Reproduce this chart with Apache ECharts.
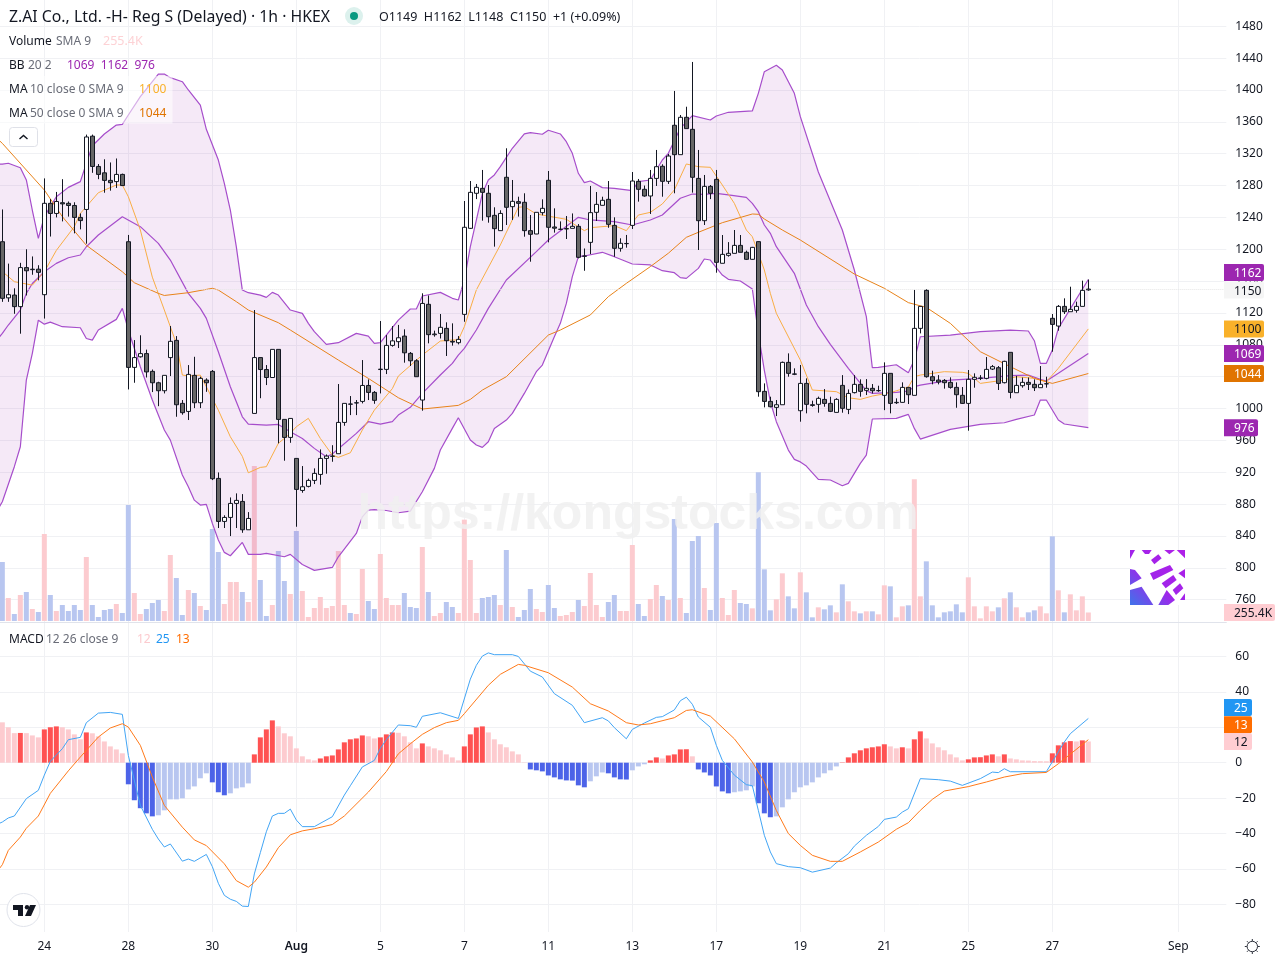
<!DOCTYPE html>
<html><head><meta charset="utf-8">
<style>html,body{margin:0;padding:0;background:#fff}#c{width:1280px;height:960px}</style>
<script src="https://cdn.jsdelivr.net/npm/echarts@6/dist/echarts.min.js"></script>
</head><body><div id="c"></div>
<script>
// [open, close, low, high] per hourly bar
const candles=[
[1209.5,1138.4,1134,1250],[1139,1143,1134,1182],[1142.5,1128,1119,1151],[1128,1177,1094,1183],[1177,1173,1142,1200],[1174.4,1175,1168,1191],[1175,1171,1161,1180],[1143,1257.7,1113,1289],[1257.7,1245,1216,1263],[1245,1260,1240,1272],
[1258.5,1257,1235,1288],[1257.7,1255,1241,1260],[1255,1240,1220,1259],[1240,1236,1225,1245],[1250,1341,1207,1344],[1342,1304,1296,1344],[1304,1294,1288,1307],[1296,1286.5,1271,1313],[1286.5,1283.6,1273.6,1309],[1285,1294,1277,1314],
[1294,1280,1280,1295],[1209.5,1051.7,1024,1218],[1051.7,1064,1032.4,1086],[1065,1069,1064,1092],[1069,1046,1039,1074],[1046.7,1032.4,1020.7,1049],[1032.4,1022.4,1003,1033.7],[1022.4,1041.7,1019,1041.7],[1064,1084.4,1040.8,1103.6],[1085.6,1004.8,989.7,1091],
[1006.5,994.8,992.3,1010.7],[996.4,1042.9,985.6,1054.6],[1041.7,1007.3,1000.6,1065],[1007.3,1037.9,1000.6,1040],[1035.8,1032.4,1021,1038],[1046.7,911.9,910.2,1048.4],[912.3,858.3,850,919.8],[858.3,863.3,850,866],[863.3,880.9,839.9,888.4],[880.9,884.7,850,893.5],
[883.4,847.8,844,892.6],[847.8,862,847.8,870],[993.9,1064,993.9,1123.7],[1064,1049,1013,1064],[1049,1039,1029.5,1054.6],[1039,1074.3,1039,1074.3],[1074.3,986.4,956.3,1074.3],[986.4,963.8,934.5,986.4],[963.8,987.6,957,987.6],[937.4,898.5,851.6,937.4],
[897.2,901.8,894.3,927.8],[902.3,909.8,901,912],[909.8,918.6,905.2,924.9],[917.3,937.4,904.4,948.7],[937.4,940.3,918.2,942.4],[940,940.3,933.2,954],[943.3,982.6,943.3,1030.8],[982.6,1006.5,978.4,1006.5],[1005.7,1005.5,991.8,1015.7],[1007,1007.3,991.8,1010.7],
[1009,1029,1006.5,1060.9],[1029,1020.3,1010.7,1036.6],[1020.3,1010.3,1006,1022],[1049,1049.5,1019,1109.9],[1049.2,1079.3,1043.3,1092.3],[1079.3,1085,1077.7,1103.6],[1084,1088.9,1076,1105],[1091,1070,1057.6,1099.5],[1069.3,1060,1053.4,1071],[1060,1040,1040,1062],
[1010.7,1132,997.3,1144.7],[1130.9,1092.8,1081.9,1142],[1092.7,1093.6,1090.3,1097.8],[1094.4,1102,1088,1118.7],[1100.7,1085.2,1066,1108.3],[1084.4,1083.5,1079,1107],[1082.7,1086.9,1080.6,1091],[1118.3,1227.6,1109,1260.6],[1226.3,1271.5,1225.5,1285.7],[1270.3,1277.8,1263,1282],
[1276.5,1271.5,1235.9,1299.6],[1270.3,1240.9,1233.4,1280.7],[1242.6,1225.9,1203.3,1252.7],[1223.4,1245,1223.4,1249],[1290.4,1252.7,1230.5,1326.8],[1253.5,1260.2,1236.8,1287],[1259.8,1257.7,1241,1266],[1259,1223.4,1215.8,1270.3],[1223.4,1218.8,1184.4,1243],[1219.2,1246.4,1219,1246.4],
[1246,1251.4,1242.6,1262.7],[1286.6,1227.6,1208.7,1298.3],[1228,1226.5,1220.9,1251.4],[1225,1225.2,1224,1235],[1225.5,1226,1212.9,1241.8],[1226.3,1228.8,1226.3,1245],[1228.8,1189.9,1188.6,1231.7],[1191.2,1191.6,1173,1201],[1208.7,1246,1194,1279.5],[1246.4,1256.4,1235.5,1271.9],
[1255.2,1261.5,1255,1266],[1262.7,1231.3,1227,1285.7],[1230,1201.2,1190.7,1240.1],[1201.2,1207.5,1197,1213.8],[1207,1207.3,1202,1218],[1230,1285.7,1225.5,1297],[1285.3,1275.3,1259.8,1288.3],[1275.3,1266.9,1266,1280],[1266.9,1289,1244.3,1299.6],[1289,1303.7,1279.5,1324.7],
[1304.2,1285.3,1266,1306.7],[1285.3,1317.1,1282,1319.7],[1355.7,1318.8,1270.3,1398.8],[1318.8,1365.7,1318.8,1368.6],[1365.7,1351.5,1351.5,1379],[1350.6,1290.4,1271.1,1435.2],[1289,1235.9,1199.1,1324.7],[1235.9,1279,1230.5,1293.3],[1279,1270.3,1263,1280.7],[1287.8,1183.6,1170.6,1299.6],
[1182.4,1193.6,1182.4,1217.9],[1192.4,1194.9,1190.7,1209],[1194.9,1204.9,1194.9,1224.2],[1204.9,1196.2,1196.2,1217.9],[1196.2,1187.4,1186.5,1198.3],[1187.4,1202.4,1187,1203],[1209.6,1021.2,1014.9,1210],[1021.6,1009,1001.5,1031.6],[1009,1002.3,1001.5,1014.9],[1001.5,1004.8,990.6,1010.7],
[1004.8,1058,1004.8,1059],[1058,1044.2,1040,1069.3],[1043.5,1043.1,1042,1050.5],[997.3,1031.6,983.5,1054.7],[1031.6,1005.3,994,1037.9],[1004.8,1004,1002.3,1009.9],[1005.3,1012.8,994.8,1015],[1011.5,1006.5,1002.3,1024.5],[1006.5,996.5,995.6,1014.9],[995.2,1011.5,995.2,1013],
[1029.1,1000.3,994.8,1042],[999,1019,993,1024],[1020,1030.4,1019,1042],[1030.4,1021.6,1014.9,1036.7],[1022.9,1025.4,1017,1037],[1025.4,1022.4,1019,1030.8],[1022.4,1022.6,1021,1028.7],[1016.6,1044.2,998,1058],[1044.2,1006.5,994,1044.2],[1007.3,1007.8,1005.7,1012.8],
[1007.8,1026.6,1007.4,1032.9],[1026.6,1017.4,1005.7,1026.6],[1016.6,1100.7,1016.6,1148.9],[1100.7,1128.3,1094.4,1128.3],[1148.4,1040,1038.8,1149.7],[1040,1035,1030.4,1047.5],[1035.8,1033.3,1030.4,1042],[1035.4,1032.5,1025,1037],[1032.9,1026.6,1025,1039.2],[1026.6,1017.4,1001,1032.9],
[1016.6,1006.5,1005.7,1027],[1006.5,1036.7,972.2,1048.4],[1036.7,1039.2,1026.2,1044.2],[1038,1038.4,1035.8,1042],[1037.9,1049.2,1036.7,1064.7],[1049.6,1052.6,1048.4,1054.7],[1051.3,1031.6,1023.3,1053.4],[1032.5,1059.3,1031.6,1060],[1070.6,1020.3,1012.8,1070.6],[1019.9,1029.1,1019.9,1041],
[1028.7,1032.9,1026.2,1039],[1032.9,1030.4,1023.3,1039],[1030.4,1026.2,1022,1036.7],[1026.2,1030.4,1026.2,1053.4],[1031,1031.2,1026.2,1040],[1113.3,1105.7,1071.4,1118.7],[1103.6,1128.3,1097.8,1130],[1128.3,1121.6,1118.7,1138.4],[1121.6,1124.6,1121.6,1153],[1123.3,1128.3,1120.4,1134.2],
[1128.3,1148.4,1128.3,1160.6],[1149,1150,1148,1162]];
// volume in thousands of shares
const volumes=[1770,690,210,780,870,360,270,2610,780,300,480,300,480,330,1920,480,120,330,360,510,240,3480,840,210,360,540,630,300,1980,1290,180,930,840,450,330,2760,2070,510,1170,1170,870,570,4650,1230,150,480,2100,1200,810,2700,900,120,390,720,390,450,2100,480,240,210,1560,600,360,2010,690,480,480,
840,420,390,2220,870,150,240,570,420,240,3040,1830,240,690,720,780,480,2130,420,120,330,960,360,270,1080,390,150,180,270,630,450,1440,480,120,570,780,300,300,2280,510,150,660,1080,750,630,3060,690,240,2400,2550,990,330,2940,690,180,930,540,510,
380,4460,1550,320,650,1430,740,380,1460,860,110,410,350,470,260,1100,590,290,230,290,290,200,1070,1040,110,440,470,4250,740,1790,470,110,260,290,500,260,1310,440,80,440,290,410,680,860,410,110,260,320,440,230,2540,920,260,800,320,740,255.4];
// [bar, price]; bar -1 lies just left of the visible window
const bbUpper=[[-1,1307],[0,1307],[1,1308],[3,1302.4],[4,1287],[5,1249],[6,1213.7],[7,1241],[8,1253.5],[9,1266],[11,1277.7],[13,1284.9],[14,1307.9],[15,1330],[17,1344.7],[19,1356],[20,1356.9],[21,1368.6],[23,1391.6],[26,1420],[27,1420],[28,1415.5],[30,1410.4],[31,1400],[33,1381],[34,1350.6],[36,1312],[37,1282.8],[38,1249.3],[39,1203],[40,1148.8],[41,1145.5],[43,1142.5],[44,1139.6],[45,1145.9],[46,1142.5],[48,1123.7],[50,1119.5],[51,1107],[52,1096.5],[54,1080.6],[56,1082.7],[59,1094.4],[61,1091],[62,1081.8],[63,1082.7],[64,1092.3],[66,1111],[68,1125],[69,1125],[70,1141.3],[73,1145.9],[75,1138.4],[76,1136.3],[77,1161.4],[78,1203.3],[80,1270],[81,1287],[82,1293.3],[83,1303.7],[85,1326.8],[87,1344.8],[88,1346.4],[90,1344.4],[91,1349.4],[93,1344.8],[94,1335.1],[95,1320.5],[96,1295.4],[97,1283.7],[98,1285.7],[100,1277.4],[102,1276.5],[105,1273.6],[106,1284.9],[108,1287],[110,1312.1],[111,1320.5],[113,1351.9],[115,1367.8],[118,1362.3],[119,1367.4],[121,1372],[125,1373.7],[126,1395.8],[127,1423],[129,1431],[130,1425.1],[132,1395.8],[133,1366.5],[136,1297],[140,1224.2],[142,1174],[144,1115.4],[145,1051.3],[146,1051.7],[149,1055],[151,1045],[152,1061],[153,1090.2],[158,1092.3],[163,1096.5],[168,1098.6],[171,1097.4],[172,1085.2],[173,1056.8],[174,1056.8],[175,1073.5],[176,1100.7],[181,1162]];
const bbBasis=[[-1,1085],[0,1094.4],[1,1104.9],[3,1123.7],[4,1144.6],[5,1157],[7,1171.8],[9,1182.3],[11,1189.4],[13,1192.8],[14,1203.2],[16,1217.9],[20,1240.9],[23,1228.4],[26,1207.4],[28,1186.5],[31,1144.6],[33,1125.8],[34,1113.2],[36,1071.4],[38,1027.4],[40,989.7],[41,980.5],[44,979.3],[46,980.1],[48,970.9],[50,962.5],[52,950],[54,939.5],[55,942.9],[59,968.8],[61,983.5],[63,980.5],[65,983.5],[66,991.8],[68,1001.5],[70,1019.1],[73,1042.1],[75,1056.7],[76,1067.2],[77,1075.6],[79,1098.6],[81,1125.8],[84,1161.4],[89,1197],[91,1211.7],[96,1240.1],[98,1236.8],[102,1234.7],[105,1230.5],[108,1236.8],[110,1243],[113,1264],[115,1269.4],[117,1269],[119,1270.3],[121,1268.2],[124,1265.2],[125,1257.7],[126,1247.2],[127,1230.5],[128,1220],[129,1203.3],[132,1169.8],[134,1130],[136,1102.8],[138,1080.6],[141,1050.5],[144,1022.4],[145,1019.1],[149,1020.4],[151,1022],[152,1027.5],[153,1029.5],[158,1035.8],[163,1037.9],[168,1041.3],[171,1042.1],[173,1036.7],[174,1034.6],[176,1044.2],[181,1069]];
const bbLower=[[-1,870],[0,883],[2,927],[3,952],[4,1035.8],[5,1069.3],[6,1111],[7,1106],[8,1108.6],[10,1102.8],[13,1101.5],[14,1088],[15,1086],[16,1098.6],[19,1112],[20,1125.8],[21,1098.6],[23,1052.5],[25,1010.7],[27,973],[28,960.4],[30,916.5],[31,901.8],[32,885],[33,878.8],[34,879.7],[35,855.8],[36,834.9],[37,819.4],[38,815.2],[40,831.9],[41,816.9],[43,816.9],[44,818.1],[47,813.9],[48,816.9],[50,804.3],[52,796.8],[55,800.5],[56,813.9],[59,843.2],[60,864],[61,872.5],[62,873],[64,872],[66,869.2],[68,871.3],[70,895.6],[72,924.9],[73,947.9],[75,975.1],[76,988.5],[78,960.5],[79,954.2],[80,951.3],[81,958.4],[82,975.1],[84,985.6],[85,993.9],[87,1019],[89,1046.3],[90,1054.6],[92,1090.2],[93,1107],[94,1132],[95,1165.6],[96,1190.7],[97,1191.6],[100,1196.2],[102,1190.7],[105,1181.5],[108,1180.3],[110,1173.1],[112,1170.6],[113,1164.4],[114,1163.5],[116,1176],[117,1187.8],[118,1186.5],[120,1167.7],[121,1162.3],[123,1160.2],[125,1150.1],[126,1094.4],[127,1048],[128,1008.6],[129,983.5],[131,947.9],[132,936.2],[133,933],[134,927.8],[136,911.1],[138,910.3],[140,903.1],[141,906],[143,931.2],[144,941.6],[145,986.9],[149,987.7],[151,992.7],[152,975.1],[153,961.7],[158,973.9],[163,980.2],[167,982.2],[169,986.4],[172,991.9],[173,1010.7],[174,1010.7],[176,985.6],[177,980.6],[181,976]];
const ma10=[[-1,1175],[0,1172],[2,1159.3],[5,1155],[7,1171.8],[9,1198.6],[12,1228.4],[13,1245],[16,1271],[19,1280.7],[20,1280.7],[21,1266],[23,1224.2],[25,1165],[27,1123.7],[28.5,1081.8],[30,1042.1],[31,1041],[33,1042],[34,1027.4],[36,998],[38,964.6],[40,940],[41,919.4],[43,926.1],[44,927],[46,956.3],[48,968.8],[49,977.2],[51,987.7],[53,962.5],[55,941.6],[56,938.7],[58,944.5],[60,973],[62,998],[65,1025],[66,1040.8],[70,1067.2],[73,1084.8],[75,1086.1],[76,1086.1],[77,1102.8],[79,1148.9],[83,1205.4],[86,1252.7],[87,1253.5],[89,1244.3],[94,1237.6],[97,1223.4],[98,1227.1],[102,1229.7],[104,1223.4],[106,1243],[108,1246.4],[110,1256.9],[112,1274.4],[114,1307.1],[116,1303.7],[118,1302.9],[120,1280.7],[122,1257.7],[124,1224.2],[125,1215.8],[127,1174],[128,1144.7],[129,1119.6],[133,1060.9],[135,1023.3],[139,1021.2],[141,1013.6],[143,1011.5],[145,1015.7],[148,1019.9],[151,1027],[152,1040],[153,1042.1],[157,1046.3],[160,1045.5],[161,1044.2],[163,1031.6],[167,1035.8],[169,1040],[172,1037.9],[174,1033.7],[176,1050.5],[181,1100]];
const ma50=[[-1,1340],[0,1333],[7,1274.4],[10,1241],[14,1205],[20,1171.8],[22,1158],[26,1144.6],[27,1142],[31,1145.5],[35,1151],[36,1148.8],[39,1134.2],[41,1123.7],[46,1107.8],[48,1098.6],[56,1060.9],[61,1037.9],[66,1013.6],[70,999.4],[76,1004],[78,1011.5],[80,1023.2],[84,1040],[91,1092.3],[93,1098.6],[98,1117.5],[101,1140.5],[104,1157.2],[108,1178.2],[111,1195],[114,1215],[116,1221.3],[120,1233.4],[125,1244.3],[126,1243.9],[127,1238],[130,1224.2],[133,1211.6],[142,1168.9],[147,1151],[151,1133],[154,1127],[158,1107],[163,1071.4],[168,1052.6],[172,1037.9],[175,1031.6],[181,1044]];
const macdHist=[22.8,20,16.7,16.8,16.7,15.4,14.3,18.8,20,20.5,20,18.8,16,13.2,17.1,16.6,14.9,12,9.2,7.5,5.3,-12.2,-21.2,-25.7,-28.6,-30.3,-29.7,-26.9,-20.7,-20.7,-20.1,-15.1,-13.4,-8.8,-6,-11.1,-16.7,-18.4,-17.3,-14.5,-13.9,-11.7,4.7,14.3,18.8,23.9,20.5,16.6,14.9,8.1,3.6,1.9,1.3,2.4,3.6,4.1,7.5,11.5,13.2,13.7,15.4,14.9,13.7,14.3,16,17.1,16.9,
14.9,11.5,8.1,10.9,9.2,8.1,7,4.7,3,1.3,9.2,16,19.9,20.5,17.1,13.2,10.4,8.7,6.4,4.7,0.2,-3.8,-4.3,-4.9,-7.2,-8.3,-9.4,-10,-10.1,-12.8,-13.9,-10.5,-7.7,-5.5,-6,-8.3,-9.4,-9.5,-4.3,-2.1,-0.9,1.3,3,2.4,4.1,4.7,7.5,7.6,3.6,-3.8,-5.5,-7.2,-13.4,-16.2,-17.3,-16.7,-16.2,-15.6,-13.4,-22.9,-28.6,-30.8,-30.3,-25.2,-20.7,-16.7,-13.9,-12.8,-11.1,-8.3,-6,-4.3,-2.1,0.2,3,5.3,7,8.1,8.7,9.2,10.4,9.2,8.1,8.7,8.1,13.2,17.7,13.7,10.9,8.7,7,4.7,3,1.3,1.9,3,3.1,4.1,4.7,3.6,4.7,2.4,1.9,1.3,1.2,0.9,0.85,0.8,5.3,9.8,11.5,12.2,12,12.6,12];
const macdLine=[[-1,-35],[0,-33.5],[1,-31.2],[2,-30.1],[4,-20.3],[6,-15.6],[7,-7],[8,0.8],[10,7.9],[11,13],[13,14.3],[14,22.6],[16,28],[18,28.4],[20,27.3],[21,4.1],[23,-24.1],[25,-37.6],[26,-43.1],[27,-47.6],[28,-45.9],[30,-55.6],[31,-54.4],[32,-55.7],[34,-51.8],[35,-58.7],[36,-68.1],[37,-74.9],[38,-77.1],[39,-78.3],[40,-81],[41,-81.2],[42,-62.8],[43,-50.8],[44,-39],[45,-30.1],[46,-28.6],[47,-28.6],[48,-26.2],[49,-32.4],[50,-36.1],[52,-36.1],[55,-30.5],[57,-18.3],[58,-13],[60,-2.4],[62,1.3],[63,8.1],[64,13],[66,21.3],[68,20.9],[69,20],[70,26.2],[73,28.2],[76,25],[78,47.2],[79,55],[80,60.2],[81,62],[82,61],[85,61],[86,60],[88,51.7],[90,48.4],[92,39],[95,32.4],[97,22.6],[100,25.4],[101,23.6],[102,19.8],[104,13.5],[105,18.8],[107,22.4],[109,25.6],[110,26],[112,29.8],[113,35],[114,37],[115,33],[116,25.8],[118,20],[119,9.8],[120,1.3],[122,-7],[124,-12.4],[125,-13],[126,-26.9],[127,-41],[128,-50.4],[129,-57],[131,-58.7],[133,-59.3],[135,-61.8],[138,-59.5],[139,-56.5],[141,-51.4],[142,-47.1],[144,-41],[146,-36],[147,-32],[149,-30.7],[150,-27.9],[151,-26],[153,-9],[156,-9.6],[158,-10.4],[160,-12.8],[163,-9],[165,-5.3],[166,-5.6],[167,-3.4],[168,-5.1],[174,-5.1],[177,11.7],[178,16.4],[181,25]];
const macdSignal=[[-1,-62],[0,-57.6],[1,-49.5],[3,-42],[4,-37],[6,-30.1],[8,-17.3],[11,-4.6],[13,3.2],[16,14.5],[18,19.6],[20,22],[21,20.1],[23,9.8],[25,-8.1],[27,-24.1],[30,-36.4],[32,-43.6],[34,-46.8],[37,-57.1],[39,-66.6],[41,-70.3],[42,-67.5],[44,-58.9],[46,-48],[48,-40.7],[50,-38.5],[52,-37.3],[55,-34.9],[57,-30.1],[61,-16.6],[64,-5],[66,5],[68,10.7],[70,16],[72,19.8],[74,22.6],[76,23.9],[77,27.7],[81,43.7],[83,49.9],[86,55.5],[87,55],[91,50.8],[95,42.7],[98,33.3],[101,29.2],[104,22.6],[106,21.3],[108,22],[112,25.4],[114,29.5],[115,29.9],[118,26.3],[122,13.5],[125,0.4],[127,-10.9],[129,-27],[131,-40],[133,-46.7],[135,-52.3],[138,-55.7],[140,-55.7],[143,-50.4],[146,-44.8],[149,-37.6],[151,-33.9],[153,-26.9],[155,-20.7],[157,-16],[161,-13.5],[164,-10.9],[167,-8.1],[170,-6.2],[174,-5.5],[176,-0.6],[181,13]];
const tickBars=[7,21,35,49,63,77,91,105,119,133,147,161,175,196];
const tickLabels=['24','28','30','Aug','5','7','11','13','17','19','21','25','27','Sep'];
const priceTicks=[1480,1440,1400,1360,1320,1280,1240,1200,1160,1120,1080,1040,1000,960,920,880,840,800,760];
const macdTicks=[60,40,20,0,-20,-40,-60,-80];
const priceTagValues=[1162,1150,1100,1069,1044,976];
const macdTagValues=[25,13,12];
const lastVolume=255.4;

const FONT='"Noto Sans",sans-serif', INK='#131722', GREY='#6a6d78', GRID='#f0f1f4';
const BAR_COUNT=206;
const categories=Array.from({length:BAR_COUNT},(_,i)=>{const k=tickBars.indexOf(i-1);return k<0?'':tickLabels[k];});
const hasLabel=(i,v)=>v!=='';
const shift=a=>a.map(p=>[p[0]+1,p[1]]);
const lead=a=>['-'].concat(a);
const gridBox={left:-3.67,width:1230,outerBoundsMode:'none',containLabel:false};
const UP_VOL='#fccbcf',DN_VOL='#b8c6f0';

const priceTagStyle={1162:{bg:'#9c27b0',fg:'#fff',w:40,dy:-7},1150:{bg:'#f5f5f5',fg:INK,w:40,dy:1},1100:{bg:'#f9b12a',fg:INK,w:40,dy:0},1069:{bg:'#9c27b0',fg:'#fff',w:40,dy:0},1044:{bg:'#e07400',fg:'#fff',w:40,dy:0},976:{bg:'#9c27b0',fg:'#fff',w:34,dy:0}};
const macdTagStyle={25:{bg:'#2196f3',fg:'#fff',w:28,dy:-11},13:{bg:'#ff6d00',fg:'#fff',w:28,dy:-15},12:{bg:'#ffcdd2',fg:INK,w:28,dy:0}};

function tagItem(text,st,y){
  return {type:'group',children:[
    {type:'rect',shape:{x:1224,y:y-8.5+st.dy,width:st.w,height:17,r:[0,2,2,0]},style:{fill:st.bg}},
    {type:'text',style:{x:1224+10,y:y+st.dy+1,text:String(text),fill:st.fg,font:'12px '+FONT,verticalAlign:'middle',textAlign:'left'}}
  ]};
}
function bandItem(params,api){
  const top=bbUpper.map(p=>api.coord([p[0]+1,p[1]]));
  const bot=bbLower.map(p=>api.coord([p[0]+1,p[1]])).reverse();
  return {type:'polygon',shape:{points:top.concat(bot)},style:{fill:'rgba(156,39,176,0.1)'},silent:true};
}
const lineS=(name,data,color,xi,yi,w)=>({name,type:'line',xAxisIndex:xi,yAxisIndex:yi,data:shift(data),showSymbol:false,symbol:'none',smooth:false,silent:true,z:4,lineStyle:{color,width:w||1},clip:false,animation:false});

const T=(text,x,y,fill,extra)=>({type:'text',z:100,silent:true,style:Object.assign({text,x,y:y+1,fill,font:'12px '+FONT,verticalAlign:'middle',textAlign:'left'},extra||{})});
const LOGO_FILL={type:'linear',x:1185,y:550,x2:1130,y2:605,global:true,colorStops:[{offset:0,color:'#b01fe8'},{offset:0.55,color:'#a024ea'},{offset:1,color:'#3f74ea'}]};
const logoPoly=pts=>({type:'polygon',z:100,silent:true,shape:{points:pts.map(p=>[1125+p[0]/3,545+p[1]/3])},style:{fill:LOGO_FILL}});
const gearRays=[];
for(let a=0;a<8;a++){const c=Math.cos(a*Math.PI/4),s=Math.sin(a*Math.PI/4);gearRays.push({type:'line',z:100,silent:true,shape:{x1:1252.3+c*5.5,y1:946.5+s*5.5,x2:1252.3+c*7.5,y2:946.5+s*7.5},style:{stroke:'#2a2e39',lineWidth:1}});}

const graphics=[
 {type:'rect',z:90,silent:true,shape:{x:0,y:76,width:172.5,height:47.5},style:{fill:'rgba(255,255,255,0.55)'}},
 T('Z.AI Co., Ltd. -H- Reg S (Delayed) · 1h · HKEX',9,16,INK,{font:'15.8px '+FONT}),
 {type:'circle',z:100,silent:true,shape:{cx:354,cy:16,r:9},style:{fill:'#dcf1ed'}},
 {type:'circle',z:100,silent:true,shape:{cx:354,cy:16,r:4},style:{fill:'#089981'}},
 T('O1149  H1162  L1148  C1150  +1 (+0.09%)',379,16,INK,{font:'12.5px '+FONT}),
 T('Volume',9,40.5,INK),T('SMA 9',56,40.5,GREY),T('255.4K',103,40.5,'#fdd2d5',{font:'12.5px '+FONT}),
 T('BB',9,64.5,INK),T('20 2',28,64.5,GREY),T('1069  1162  976',67,64.5,'#9c27b0'),
 T('MA',9,88.5,INK),T('10 close 0 SMA 9',30,88.5,GREY),T('1100',139,88.5,'#f9b12a'),
 T('MA',9,112.5,INK),T('50 close 0 SMA 9',30,112.5,GREY),T('1044',139,112.5,'#e07400'),
 T('MACD',9,638.5,INK),T('12 26 close 9',46,638.5,GREY),T('12',137,638.5,'#fccbcf'),T('25',156,638.5,'#2196f3'),T('13',176,638.5,'#ff6d00'),
 {type:'rect',z:100,silent:true,shape:{x:9.5,y:127.5,width:28,height:19,r:3},style:{fill:'#fff',stroke:'#dfe1e8',lineWidth:1}},
 {type:'polyline',z:100,silent:true,shape:{points:[[19.5,139],[23.5,135.5],[27.5,139]]},style:{stroke:INK,lineWidth:1.4,fill:'none'}},
 {type:'text',z:95,silent:true,style:{text:'https://kongstocks.com',x:638,y:515,fill:'rgba(240,240,240,0.85)',font:'bold 50px "Liberation Sans",sans-serif',textAlign:'center',verticalAlign:'middle'}},
 {type:'rect',z:99,silent:true,shape:{x:1130,y:550,width:55,height:55},style:{fill:'#ffffff'}},
 logoPoly([[15,15],[30,15],[15,42]]),logoPoly([[50,15],[80,15],[72,27],[60,27]]),logoPoly([[78,45],[100,28],[110,40],[88,58]]),logoPoly([[118,15],[150,15],[133,28]]),logoPoly([[155,15],[180,15],[180,40]]),
 logoPoly([[15,72],[30,75],[50,100],[15,120]]),logoPoly([[75,85],[135,60],[145,75],[85,105]]),logoPoly([[110,115],[145,90],[155,105],[122,130]]),logoPoly([[143,135],[165,115],[175,130],[153,150]]),
 logoPoly([[15,135],[50,125],[85,180],[15,180]]),logoPoly([[100,180],[125,135],[150,165],[130,180]]),logoPoly([[165,165],[180,145],[180,165]]),logoPoly([[160,85],[180,72],[180,100]]),
 {type:'circle',z:100,silent:true,shape:{cx:23.5,cy:910,r:16.5},style:{fill:'#fff',stroke:'#e0e3eb',lineWidth:1}},
 {type:'polygon',z:101,silent:true,shape:{points:[[13,905],[23,905],[23,916],[18,916],[18,910],[13,910]]},style:{fill:INK}},
 {type:'polygon',z:101,silent:true,shape:{points:[[30,905],[36,905],[31,916],[25,916]]},style:{fill:INK}},
 {type:'circle',z:101,silent:true,shape:{cx:27,cy:907.2,r:2.2},style:{fill:INK}},
 {type:'circle',z:100,silent:true,shape:{cx:1252.3,cy:946.5,r:5.2},style:{fill:'none',stroke:'#2a2e39',lineWidth:1}}
].concat(gearRays);

const chart=echarts.init(document.getElementById('c'),null,{renderer:'canvas'});
chart.setOption({
 animation:false,backgroundColor:'#fff',textStyle:{fontFamily:FONT},
 graphic:{elements:graphics},
 grid:[
  Object.assign({top:0,height:622},gridBox),
  Object.assign({top:0,height:621},gridBox),
  Object.assign({top:622,height:310},gridBox)
 ],
 xAxis:[
  {type:'category',gridIndex:0,data:categories,boundaryGap:false,axisTick:{show:false},axisLabel:{show:false},axisLine:{show:true,lineStyle:{color:'#e0e3eb'}},splitLine:{show:true,interval:hasLabel,lineStyle:{color:GRID}}},
  {type:'category',gridIndex:1,data:categories,boundaryGap:false,axisTick:{show:false},axisLabel:{show:false},axisLine:{show:false},splitLine:{show:false}},
  {type:'category',gridIndex:2,data:categories,boundaryGap:false,axisTick:{show:false},axisLine:{show:false},splitLine:{show:true,interval:hasLabel,lineStyle:{color:GRID}},
   axisLabel:{show:true,interval:hasLabel,margin:9,color:INK,fontSize:12,fontFamily:FONT,hideOverlap:false,formatter:v=>v==='Aug'?'{b|Aug}':v,rich:{b:{fontWeight:600,color:INK,fontSize:12,fontFamily:FONT}}}}
 ],
 yAxis:[
  {type:'value',gridIndex:0,position:'right',min:732,max:1513,axisLine:{show:false},axisTick:{show:false,customValues:priceTicks},splitLine:{show:true,lineStyle:{color:GRID}},axisLabel:{customValues:priceTicks,margin:9,padding:[4,0,0,0],color:INK,fontSize:12,fontFamily:FONT,showMinLabel:true,showMaxLabel:true,formatter:v=>String(v)}},
  {type:'value',gridIndex:1,position:'right',min:0,max:18630,axisLine:{show:false},axisTick:{show:false},splitLine:{show:false},axisLabel:{show:false}},
  {type:'value',gridIndex:2,position:'right',min:-95.6,max:79.45,axisLine:{show:false},axisTick:{show:false,customValues:macdTicks},splitLine:{show:true,lineStyle:{color:GRID}},axisLabel:{customValues:macdTicks,margin:9,padding:[4,0,0,0],color:INK,fontSize:12,fontFamily:FONT,formatter:v=>String(v).replace('-','\u2212')}}
 ],
 series:[
  {type:'bar',name:'Volume',xAxisIndex:1,yAxisIndex:1,data:lead(volumes),barWidth:5,z:1,silent:true,clip:false,itemStyle:{color:p=>{const c=candles[p.dataIndex-1];return c&&c[1]<c[0]?DN_VOL:UP_VOL;}}},
  {type:'custom',name:'BB fill',xAxisIndex:0,yAxisIndex:0,data:[[1,bbUpper[0][1]]],renderItem:bandItem,z:2,silent:true},
  lineS('BB upper',bbUpper,'#a64dcb',0,0,1.2),lineS('BB basis',bbBasis,'#a64dcb',0,0,1.2),lineS('BB lower',bbLower,'#a64dcb',0,0,1.2),
  lineS('MA 10',ma10,'#f9ae45',0,0),lineS('MA 50',ma50,'#e8831a',0,0),
  {type:'candlestick',name:'Price',xAxisIndex:0,yAxisIndex:0,data:lead(candles),barWidth:4,z:5,silent:true,clip:false,
   itemStyle:{color:'#ffffff',color0:'#666666',borderColor:INK,borderColor0:INK,borderWidth:1},
   markLine:{silent:true,symbol:'none',label:{show:false},lineStyle:{type:'dotted',color:'#e6e6e6',width:1},data:[{yAxis:1150}]}},
  {type:'custom',name:'price tags',xAxisIndex:0,yAxisIndex:0,z:20,clip:false,silent:true,data:priceTagValues.map(v=>[182,v]),
   renderItem:(p,api)=>{const v=api.value(1);return tagItem(v,priceTagStyle[v],api.coord([182,v])[1]);}},
  {type:'custom',name:'volume tag',xAxisIndex:1,yAxisIndex:1,z:20,clip:false,silent:true,data:[[182,lastVolume]],
   renderItem:(p,api)=>{const v=api.value(1);return tagItem('255.4K',{bg:'#ffcdd2',fg:INK,w:51,dy:0},api.coord([182,v])[1]);}},
  {type:'bar',name:'Histogram',xAxisIndex:2,yAxisIndex:2,data:lead(macdHist),barWidth:5,z:1,silent:true,clip:false,
   itemStyle:{color:p=>{const i=p.dataIndex-1,v=macdHist[i],pv=i>0?macdHist[i-1]:v+1;return v>=0?(v>pv?'#ff5252':'#fdcbcf'):(v<pv?'#4c63e8':'#b8c6f0');}}},
  lineS('MACD',macdLine,'#42a5f5',2,2),lineS('Signal',macdSignal,'#ff7a1a',2,2),
  {type:'custom',name:'macd tags',xAxisIndex:2,yAxisIndex:2,z:20,clip:false,silent:true,data:macdTagValues.map(v=>[182,v]),
   renderItem:(p,api)=>{const v=api.value(1);return tagItem(v,macdTagStyle[v],api.coord([182,v])[1]);}}
 ]
});
</script></body></html>
